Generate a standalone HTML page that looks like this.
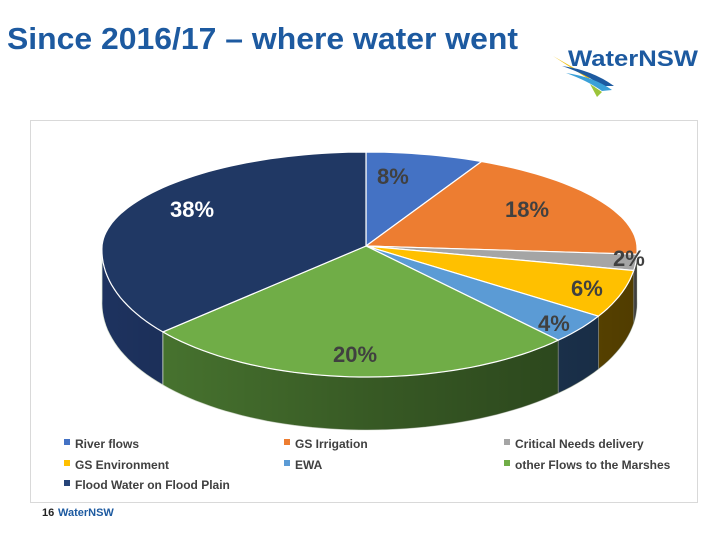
<!DOCTYPE html>
<html><head><meta charset="utf-8"><style>
body{margin:0;background:#fff;width:715px;height:550px;overflow:hidden;font-family:"Liberation Sans",sans-serif}
</style></head><body>
<svg id="s" width="715" height="550" xmlns="http://www.w3.org/2000/svg">
<defs><linearGradient id="sh" x1="100" y1="0" x2="640" y2="0" gradientUnits="userSpaceOnUse">
<stop offset="0" stop-color="#000" stop-opacity="0.05"/><stop offset="0.5" stop-color="#000" stop-opacity="0.3"/><stop offset="1" stop-color="#000" stop-opacity="0.5"/></linearGradient></defs>
<rect width="715" height="550" fill="#fff"/>
<text x="7" y="49" font-size="31" font-weight="bold" fill="#1d5aa0" textLength="511" lengthAdjust="spacingAndGlyphs">Since 2016/17 – where water went</text>
<g id="logo">
<path d="M553 56 L588 76 L598 92 L590 80 Z" fill="#f2c318"/>
<path d="M562 66 Q592 70 614 86 L602 86 Q586 74 562 66Z" fill="#1d5aa0"/>
<path d="M566 73 Q594 77 612 90 L602 91 Q588 81 566 73Z" fill="#3aa0d8"/>
<path d="M590 84 L602 92 L597 97Z" fill="#9cc43a"/>
<text x="568" y="66" font-size="22" font-weight="bold" fill="#1d5aa0" textLength="130" lengthAdjust="spacingAndGlyphs">WaterNSW</text>
</g>
<rect x="30.5" y="120.5" width="667" height="382" fill="#fff" stroke="#d9d9d9"/>
<g id="pie"></g>
<g font-size="22" font-weight="bold" fill="#404040">
<text x="377" y="184">8%</text>
<text x="505" y="217">18%</text>
<text x="613" y="266">2%</text>
<text x="571" y="296">6%</text>
<text x="538" y="331">4%</text>
<text x="333" y="362">20%</text>
<text x="170" y="217" fill="#fff">38%</text>
</g>
<g font-size="12" font-weight="bold" fill="#404040">
<rect x="64" y="439" width="6" height="6" fill="#4472c4"/><text x="75" y="448">River flows</text>
<rect x="284" y="439" width="6" height="6" fill="#ed7d31"/><text x="295" y="448">GS Irrigation</text>
<rect x="504" y="439" width="6" height="6" fill="#a5a5a5"/><text x="515" y="448">Critical Needs delivery</text>
<rect x="64" y="460" width="6" height="6" fill="#ffc000"/><text x="75" y="469">GS Environment</text>
<rect x="284" y="460" width="6" height="6" fill="#5b9bd5"/><text x="295" y="469">EWA</text>
<rect x="504" y="460" width="6" height="6" fill="#70ad47"/><text x="515" y="469">other Flows to the Marshes</text>
<rect x="64" y="480" width="6" height="6" fill="#264478"/><text x="75" y="489">Flood Water on Flood Plain</text>
</g>
<text x="42" y="516" font-size="11" font-weight="bold" fill="#222">16</text>
<text x="58" y="516" font-size="11" font-weight="bold" fill="#1d5aa0">WaterNSW</text>
</svg>
<script>
(function(){
var cx=366,cy=246,d=53;
var bnd=[0,26,93.6,100.8,122.4,136,229,360];
var topC=["#4472c4","#ed7d31","#a5a5a5","#ffc000","#5b9bd5","#70ad47","#203864"];
var sideC=["#2f528f","#ae5a21","#7b7b7b","#a07800","#2e5583","#4f8034","#1f3564"];
function P(deg,dy){var t=deg*Math.PI/180,c=Math.cos(t),s=Math.sin(t),rx=(s>0?271:264)-8*c,ry=c>0?94:131;
 return (cx+rx*s).toFixed(1)+','+(cy-ry*c+(dy||0)).toFixed(1);}
function arc(a,b,dy){var r=[],n=Math.max(2,Math.ceil((b-a)/2));for(var k=0;k<=n;k++)r.push(P(a+(b-a)*k/n,dy));return r;}
var g=document.getElementById('pie'),sides='',tops='';
for(var i=0;i<7;i++){
 var t1=bnd[i],t2=bnd[i+1];
 var s1=Math.max(t1,90),s2=Math.min(t2,270);
 if(s2>s1){var up=arc(s1,s2,0),dn=arc(s1,s2,d).reverse();
  sides+='<polygon points="'+up.concat(dn).join(' ')+'" fill="'+sideC[i]+'" stroke="#dfe8d8" stroke-width="0.8"/>';}
 tops+='<polygon points="'+cx+','+cy+' '+arc(t1,t2,0).join(' ')+'" fill="'+topC[i]+'" stroke="#fff" stroke-width="1.2" stroke-linejoin="round"/>';
}
var all=arc(90,270,0).concat(arc(90,270,d).reverse());
sides+='<polygon points="'+all.join(' ')+'" fill="url(#sh)"/>';
g.innerHTML=sides+tops;
})();
</script>
</body></html>
